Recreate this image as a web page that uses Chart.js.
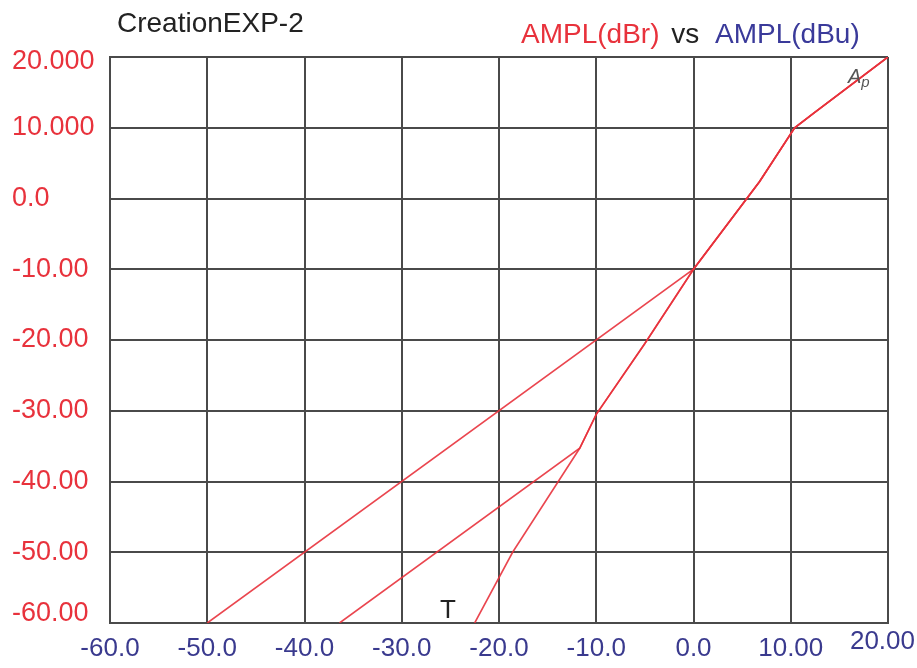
<!DOCTYPE html>
<html>
<head>
<meta charset="utf-8">
<script src="https://cdn.jsdelivr.net/npm/chart.js@4.4.1/dist/chart.umd.min.js"></script>
<style>
    html, body { margin: 0; padding: 0; background: #fff; }
    #wrap { position: relative; width: 917px; height: 668px; }
    #chart { position: absolute; left: 0; top: 0; }
    .txt { position: absolute; font-family: "Liberation Sans", Arial, sans-serif; line-height: 28px; white-space: nowrap; }
</style>
</head>
<body>
<div id="wrap">
    <canvas id="chart" width="917" height="668"></canvas>
    <div class="txt" style="left:117px; top:9px; font-size:28px; color:#222;">CreationEXP-2</div>
    <div class="txt" style="left:521px; top:20px; font-size:28px;">
        <span style="color:#e8323c;">AMPL(dBr)</span>
        <span style="color:#222; margin-left:4px;">vs</span>
        <span style="color:#3a3a9a; margin-left:8px;">AMPL(dBu)</span>
    </div>
    <div class="txt" style="left:440px; top:595px; font-size:26px; color:#222;">T</div>
    <div class="txt" style="left:848px; top:62px; font-size:20px; font-style:italic; color:#555;">A<span style="font-size:15px; vertical-align:-4px;">p</span></div>
</div>
<script>
    // x = AMPL(dBu), y = AMPL(dBr)
    const xTickValues = [-60, -50, -40, -30, -20, -10, 0, 10, 20];
    const xTickLabels = ["-60.0", "-50.0", "-40.0", "-30.0", "-20.0", "-10.0", "0.0", "10.00", "20.00"];
    const yTickValues = [-60, -50, -40, -30, -20, -10, 0, 10, 20];
    const yTickLabels = ["-60.00", "-50.00", "-40.00", "-30.00", "-20.00", "-10.00", "0.0", "10.000", "20.000"];

    const curveAx = [-50, 0, 6.8, 10.4, 12.3, 20];
    const curveAy = [-60, -10, 2.4, 10, 12, 20];

    const curveBx = [-36.4, -11.7, -10, -5, 0, 6.8, 10.4, 12.3, 20];
    const curveBy = [-60, -35.3, -30.5, -20.5, -10, 2.4, 10, 12, 20];

    const curveCx = [-22.5, -18.6, -11.7, -10, -5, 0, 6.8, 10.4, 12.3, 20];
    const curveCy = [-60, -50, -35.3, -30.5, -20.5, -10, 2.4, 10, 12, 20];

    const LINE_COLOR = "rgba(232,50,60,0.9)";
    const GRID_COLOR = "#4a4a4a";

    const toPoints = (xs, ys) => xs.map((x, i) => ({ x, y: ys[i] }));
    const labelFor = (values, labels, v) => {
        const i = values.indexOf(v);
        return i >= 0 ? labels[i] : "";
    };

    const curve = (xs, ys) => ({
        data: toPoints(xs, ys),
        showLine: true,
        borderColor: LINE_COLOR,
        borderWidth: 1.6,
        pointRadius: 0,
        fill: false,
        tension: 0,
    });

    // nudge the end labels inward like the original plot does
    const edgeLabels = {
        id: "edgeLabels",
        beforeDraw(chart) {
            const xItems = chart.scales.x.getLabelItems();
            const lastX = xItems[xItems.length - 1];
            if (lastX) {
                lastX.options.textAlign = "right";
                lastX.options.translation[0] = chart.chartArea.right + 27;
                lastX.options.translation[1] -= 7;
            }
            const yItems = chart.scales.y.getLabelItems();
            if (yItems.length) {
                yItems[0].options.translation[1] -= 9;
                yItems[yItems.length - 1].options.translation[1] += 5;
            }
        },
    };

    new Chart(document.getElementById("chart"), {
        type: "scatter",
        data: {
            datasets: [curve(curveAx, curveAy), curve(curveBx, curveBy), curve(curveCx, curveCy)],
        },
        plugins: [edgeLabels],
        options: {
            responsive: false,
            animation: false,
            layout: { padding: { top: 57, left: 12, right: 29, bottom: 0 } },
            plugins: { legend: { display: false }, tooltip: { enabled: false } },
            scales: {
                x: {
                    type: "linear",
                    min: -60,
                    max: 20,
                    afterBuildTicks: (scale) => { scale.ticks = xTickValues.map((v) => ({ value: v })); },
                    afterFit: (scale) => {
                        scale.height = 45;
                        scale.paddingLeft = 0;
                        scale.paddingRight = 0;
                    },
                    grid: { color: GRID_COLOR, lineWidth: 2, drawTicks: false },
                    border: { color: GRID_COLOR, width: 2 },
                    ticks: {
                        color: "#3a3a8e",
                        padding: 10,
                        maxRotation: 0,
                        autoSkip: false,
                        font: { family: "'Liberation Sans', Arial, sans-serif", size: 26 },
                        callback: (v) => labelFor(xTickValues, xTickLabels, v),
                    },
                },
                y: {
                    type: "linear",
                    min: -60,
                    max: 20,
                    afterBuildTicks: (scale) => { scale.ticks = yTickValues.map((v) => ({ value: v })); },
                    afterFit: (scale) => {
                        scale.width = 98;
                        scale.paddingTop = 0;
                        scale.paddingBottom = 0;
                    },
                    grid: { color: GRID_COLOR, lineWidth: 2, drawTicks: false },
                    border: { color: GRID_COLOR, width: 2 },
                    ticks: {
                        color: "#e8323c",
                        crossAlign: "far",
                        padding: 10,
                        autoSkip: false,
                        font: { family: "'Liberation Sans', Arial, sans-serif", size: 27 },
                        callback: (v) => labelFor(yTickValues, yTickLabels, v),
                    },
                },
            },
        },
    });
</script>
</body>
</html>
